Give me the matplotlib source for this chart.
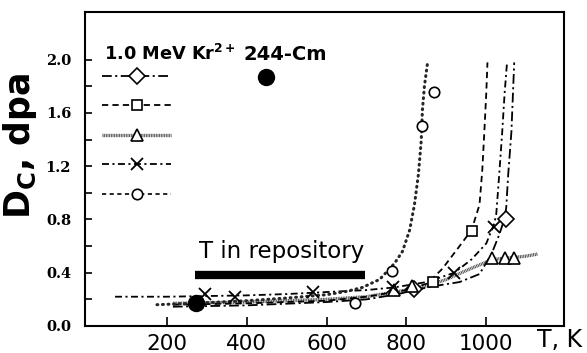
import matplotlib
matplotlib.use("Agg")
import matplotlib.pyplot as plt
from matplotlib.lines import Line2D

plt.rcParams["font.family"] = ["DejaVu Sans"]
plt.rcParams["lines.scale_dashes"] = False

# ---- curves (T in K, Dc in dpa) ----
t_dia_fit = [215, 400, 600, 700, 780, 820, 870, 933, 983, 1013, 1033, 1045, 1050, 1055, 1063, 1070]
d_dia_fit = [0.145, 0.155, 0.18, 0.20, 0.24, 0.27, 0.30, 0.33, 0.39, 0.54, 0.69, 0.80, 0.89, 1.14, 1.46, 1.98]

t_sq_fit = [215, 400, 600, 700, 800, 853, 890, 928, 963, 983, 990, 995, 1000, 1003]
d_sq_fit = [0.16, 0.17, 0.19, 0.22, 0.27, 0.32, 0.43, 0.58, 0.72, 0.91, 1.17, 1.45, 1.75, 1.98]

t_tri_fit = [215, 400, 600, 700, 800, 850, 900, 960, 1000, 1030, 1070, 1100, 1128]
d_tri_fit = [0.17, 0.18, 0.20, 0.22, 0.27, 0.30, 0.35, 0.43, 0.48, 0.505, 0.515, 0.525, 0.54]

t_x_fit = [70, 200, 300, 400, 500, 600, 700, 770, 850, 920, 963, 1000, 1020, 1025, 1032, 1040, 1046, 1052]
d_x_fit = [0.22, 0.22, 0.225, 0.23, 0.24, 0.255, 0.27, 0.29, 0.33, 0.40, 0.50, 0.62, 0.77, 0.84, 1.12, 1.46, 1.75, 1.98]

t_o_fit = [175, 300, 400, 500, 600, 650, 690, 733, 770, 790, 808, 820, 830, 837, 840, 845, 853]
d_o_fit = [0.16, 0.175, 0.19, 0.21, 0.235, 0.26, 0.29, 0.35, 0.47, 0.56, 0.72, 0.91, 1.14, 1.39, 1.62, 1.80, 1.98]

# ---- measured points ----
t_dia = [820, 1050]
d_dia = [0.28, 0.80]
t_sq = [866, 965]
d_sq = [0.33, 0.71]
t_tri = [770, 815, 1015, 1048, 1070]
d_tri = [0.27, 0.30, 0.51, 0.51, 0.51]
t_x = [295, 370, 565, 767, 920, 1020]
d_x = [0.24, 0.22, 0.255, 0.29, 0.40, 0.74]
t_o = [672, 765, 838, 868]
d_o = [0.17, 0.41, 1.50, 1.76]
t_cm = [272]
d_cm = [0.17]

repo_T = [270, 695]
repo_D = 0.38

yticks = [0.0, 0.4, 0.8, 1.2, 1.6, 2.0]
yminor = [0.2, 0.6, 1.0, 1.4, 1.8]
xticks = [200, 400, 600, 800, 1000]

fig = plt.figure(figsize=(5.87, 3.53), dpi=100)
ax = fig.add_axes([0.145, 0.0765, 0.816, 0.89])

st_dia = dict(color="k", lw=1.3, dashes=(7, 2.5, 1.5, 2.5))
st_sq = dict(color="k", lw=1.3, dashes=(4.5, 3))
st_tri = dict(color="0.3", lw=2.4, dashes=(0.7, 0.5))
st_x = dict(color="k", lw=1.3, dashes=(5, 2.5, 1.5, 2.5))
st_o = dict(color="0.15", lw=2.2, dashes=(0.6, 3.4), dash_capstyle="round")

ax.plot(t_tri_fit, d_tri_fit, **st_tri)
ax.plot(t_dia_fit, d_dia_fit, **st_dia)
ax.plot(t_sq_fit, d_sq_fit, **st_sq)
ax.plot(t_x_fit, d_x_fit, **st_x)
ax.plot(t_o_fit, d_o_fit, **st_o)

ax.plot(t_dia, d_dia, "D", ms=8, mfc="white", mec="k", mew=1.2)
ax.plot(t_sq, d_sq, "s", ms=7, mfc="white", mec="k", mew=1.2)
ax.plot(t_tri, d_tri, "^", ms=9, mfc="white", mec="k", mew=1.2)
ax.plot(t_x, d_x, "x", ms=9, mec="k", mew=1.3)
ax.plot(t_o, d_o, "o", ms=7.5, mfc="white", mec="k", mew=1.2)
ax.plot(t_cm, d_cm, "o", ms=11.5, color="k")

# repository temperature band
ax.plot(repo_T, [repo_D, repo_D], color="k", lw=6, solid_capstyle="butt")
ax.text(487, 0.51, "T in repository", ha="center", va="baseline", fontsize=16.5)

ax.set_xlim(-5, 1195)
ax.set_ylim(0, 2.36)
ax.set_xticks(xticks)
ax.set_xticklabels([str(v) for v in xticks], fontsize=15.5)
ax.set_yticks(yticks)
ax.set_yticklabels([f"{v:.1f}" for v in yticks], family="DejaVu Serif",
                   weight="bold", fontsize=10.5)
ax.set_yticks(yminor, minor=True)
ax.tick_params(axis="y", which="both", direction="in", length=5, width=1.2, pad=10)
ax.tick_params(axis="x", direction="in", length=6.5, width=1.2, pad=6)
for s in ax.spines.values():
    s.set_linewidth(1.5)

# legend
h1 = [
    Line2D([], [], marker="D", ms=8, mfc="white", mec="k", mew=1.2, **st_dia),
    Line2D([], [], marker="s", ms=7, mfc="white", mec="k", mew=1.2, **st_sq),
    Line2D([], [], marker="^", ms=9, mfc="white", mec="k", mew=1.2, **st_tri),
    Line2D([], [], marker="x", ms=9, mec="k", mew=1.3, **st_x),
    Line2D([], [], marker="o", ms=7.5, mfc="white", mec="k", mew=1.2,
           color="k", lw=1.2, dashes=(3, 2.5)),
]
leg1 = ax.legend(h1, [""] * 5, loc="upper left", bbox_to_anchor=(0.035, 0.816),
                 frameon=False, borderpad=0, borderaxespad=0,
                 handlelength=5, handletextpad=0, labelspacing=1.12,
                 fontsize=10)
ax.add_artist(leg1)
ax.text(0.04, 0.847, r"1.0 MeV Kr$^{\mathbf{2+}}$", transform=ax.transAxes,
        ha="left", va="baseline", fontsize=12.8, weight="bold")
h2 = [Line2D([], [], ls="none", marker="o", ms=11.5, color="k")]
ax.legend(h2, [""], title="244-Cm",
          title_fontproperties={"weight": "bold", "size": 14},
          loc="upper left", bbox_to_anchor=(0.331, 0.895),
          frameon=False, borderpad=0, borderaxespad=0,
          handlelength=3.15, handletextpad=0, fontsize=10, alignment="left")

fig.text(20 / 587, 1 - 146 / 353, r"D$_\mathbf{C}$, dpa", rotation=90,
         ha="center", va="center", fontsize=25, weight="bold")
fig.text(537 / 587, 1 - 347 / 353, "T, K", ha="left", va="baseline", fontsize=17)

fig.savefig("out.png", dpi=100)
